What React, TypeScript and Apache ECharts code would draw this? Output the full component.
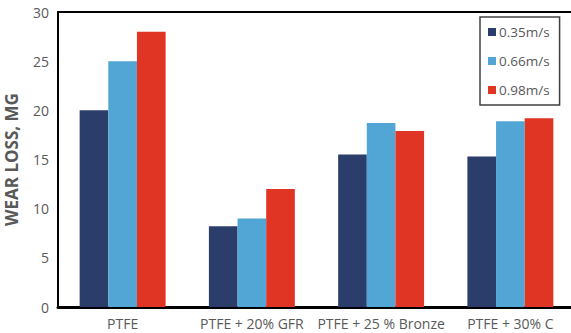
import React, { useEffect, useRef } from "react";
import * as echarts from "echarts";

const categories = ["PTFE", "PTFE + 20% GFR", "PTFE + 25 % Bronze", "PTFE + 30% C"];
const seriesNames = ["0.35m/s", "0.66m/s", "0.98m/s"];
const v035 = [20, 8.2, 15.5, 15.3];
const v066 = [25, 9, 18.7, 18.9];
const v098 = [28, 12, 17.9, 19.2];
const colors = ["#2B3D6B", "#51A6D5", "#E03424"];
const yTicks = { min: 0, max: 30, interval: 5 };

export default function App() {
  const ref = useRef<HTMLDivElement>(null);
  useEffect(() => {
    if (!ref.current) return;
    const chart = echarts.init(ref.current, undefined, { renderer: "svg" });
    const font = "'Open Sans', sans-serif";
    const values = [v035, v066, v098];
    chart.setOption({
      animation: false,
      textStyle: { fontFamily: font },
      grid: { left: 58, top: 12, bottom: 26, width: 517, containLabel: false, outerBoundsMode: "none" },
      legend: {
        orient: "vertical",
        left: 480,
        top: 17,
        padding: [8, 10, 8, 8],
        itemWidth: 8,
        itemHeight: 8,
        itemGap: 15,
        icon: "rect",
        borderColor: "#404040",
        borderWidth: 1.5,
        backgroundColor: "#fff",
        textStyle: { color: "#595959", fontSize: 13.5, fontFamily: font, padding: [0, 0, 0, -2] },
        data: seriesNames,
      },
      xAxis: [
        {
          type: "category",
          data: categories,
          axisLine: { lineStyle: { color: "#000", width: 3 } },
          axisTick: { show: false },
          axisLabel: { color: "#595959", fontSize: 14, margin: 9, interval: 0, fontFamily: font },
        },
        {
          type: "category",
          data: categories,
          position: "top",
          axisLine: { lineStyle: { color: "#000", width: 2 } },
          axisTick: { show: false },
          axisLabel: { show: false },
        },
      ],
      yAxis: {
        type: "value",
        min: yTicks.min,
        max: yTicks.max,
        interval: yTicks.interval,
        name: "WEAR LOSS, MG",
        nameLocation: "middle",
        nameGap: 38,
        nameTextStyle: { color: "#595959", fontSize: 17, fontWeight: "bold", fontFamily: font },
        axisLine: { show: true, lineStyle: { color: "#000", width: 2 } },
        axisTick: { show: false },
        splitLine: { show: false },
        axisLabel: { color: "#595959", fontSize: 14, margin: 9, fontFamily: font },
      },
      series: seriesNames.map((name, i) => ({
        name,
        type: "bar",
        data: values[i],
        barGap: "0%",
        barCategoryGap: "33.5%",
        itemStyle: { color: colors[i] },
      })),
    });
    return () => chart.dispose();
  }, []);
  return <div ref={ref} style={{ width: 571, height: 333, position: "absolute", left: 0, top: 0 }} />;
}
